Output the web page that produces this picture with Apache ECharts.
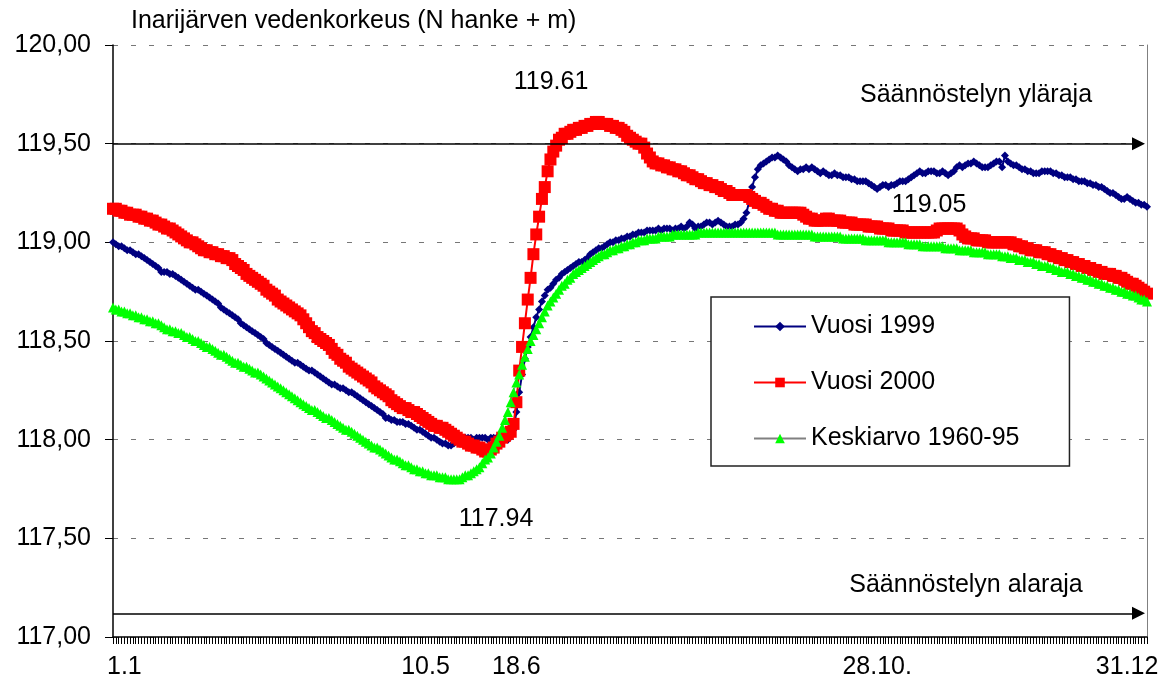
<!DOCTYPE html>
<html lang="fi">
<head>
<meta charset="UTF-8">
<title>Inarijärven vedenkorkeus</title>
<style>
  html, body { margin: 0; padding: 0; background: #fff; }
  #chart { width: 1165px; height: 681px; }
</style>
<script src="https://cdn.jsdelivr.net/npm/echarts@6/dist/echarts.min.js"></script>
</head>
<body>
<div id="chart"></div>
<script>
  // päivät 1..365 (kategoriat)
  const days = Array.from({ length: 365 }, (_, i) => String(i + 1));

  // x-akselin nimiöt ja niiden päivät
  const tickLabels = ['1.1', '10.5', '18.6', '28.10.', '31.12'];
  const tickDays = [5, 111, 143, 270, 358];

  // säännöstelyrajat
  const limitValues = [119.50, 117.12];
  const limitNames = ['Säännöstelyn yläraja', 'Säännöstelyn alaraja'];

  // merkityt arvot
  const notes = ['119.61', '117.94', '119.05'];

  const seriesNames = ['Vuosi 1999', 'Vuosi 2000', 'Keskiarvo 1960-95'];

  const vuosi1999 = [
    119.00, 118.99, 118.98, 118.98, 118.97, 118.96, 118.96, 118.95, 118.94, 118.94,
    118.93, 118.92, 118.91, 118.90, 118.89, 118.88, 118.87, 118.85, 118.85, 118.85,
    118.84, 118.84, 118.83, 118.82, 118.81, 118.80, 118.79, 118.78, 118.77, 118.76,
    118.76, 118.75, 118.74, 118.73, 118.72, 118.71, 118.70, 118.69, 118.67, 118.66,
    118.65, 118.64, 118.63, 118.62, 118.61, 118.59, 118.58, 118.57, 118.56, 118.55,
    118.54, 118.53, 118.52, 118.51, 118.49, 118.48, 118.47, 118.46, 118.45, 118.44,
    118.43, 118.42, 118.41, 118.40, 118.39, 118.39, 118.38, 118.37, 118.36, 118.35,
    118.35, 118.34, 118.33, 118.32, 118.31, 118.30, 118.29, 118.28, 118.28, 118.27,
    118.26, 118.26, 118.25, 118.24, 118.24, 118.23, 118.22, 118.21, 118.20, 118.19,
    118.18, 118.17, 118.16, 118.15, 118.14, 118.13, 118.11, 118.11, 118.10, 118.10,
    118.09, 118.09, 118.09, 118.08, 118.08, 118.07, 118.06, 118.05, 118.05, 118.04,
    118.03, 118.02, 118.01, 118.01, 118.00, 117.99, 117.98, 117.98, 117.97, 117.97,
    117.98, 118.00, 118.00, 118.01, 118.01, 118.01, 118.01, 118.00, 118.01, 118.01,
    118.01, 118.01, 118.00, 118.01, 118.01, 118.01, 118.01, 118.01, 118.01, 118.00,
    118.02, 118.05, 118.14, 118.24, 118.33, 118.41, 118.47, 118.52, 118.57, 118.62,
    118.66, 118.70, 118.73, 118.76, 118.77, 118.79, 118.81, 118.82, 118.84, 118.85,
    118.86, 118.87, 118.88, 118.89, 118.90, 118.90, 118.91, 118.92, 118.94, 118.95,
    118.96, 118.97, 118.97, 118.98, 118.99, 119.00, 119.00, 119.01, 119.01, 119.02,
    119.02, 119.03, 119.03, 119.04, 119.04, 119.05, 119.05, 119.05, 119.06, 119.06,
    119.06, 119.06, 119.07, 119.06, 119.07, 119.07, 119.07, 119.06, 119.07, 119.07,
    119.08, 119.07, 119.08, 119.10, 119.09, 119.07, 119.08, 119.08, 119.09, 119.10,
    119.10, 119.09, 119.10, 119.11, 119.10, 119.09, 119.08, 119.08, 119.08, 119.09,
    119.09, 119.10, 119.12, 119.15, 119.21, 119.28, 119.33, 119.37, 119.39, 119.40,
    119.41, 119.42, 119.43, 119.43, 119.44, 119.43, 119.42, 119.41, 119.39, 119.38,
    119.37, 119.36, 119.37, 119.37, 119.38, 119.37, 119.38, 119.37, 119.36, 119.35,
    119.36, 119.35, 119.34, 119.34, 119.35, 119.34, 119.34, 119.33, 119.33, 119.33,
    119.32, 119.32, 119.31, 119.31, 119.31, 119.31, 119.30, 119.29, 119.28, 119.27,
    119.28, 119.29, 119.29, 119.28, 119.29, 119.29, 119.30, 119.31, 119.31, 119.31,
    119.32, 119.33, 119.34, 119.35, 119.36, 119.35, 119.35, 119.36, 119.36, 119.36,
    119.35, 119.35, 119.36, 119.35, 119.34, 119.35, 119.36, 119.38, 119.39, 119.38,
    119.39, 119.40, 119.40, 119.41, 119.40, 119.39, 119.38, 119.38, 119.38, 119.39,
    119.40, 119.41, 119.41, 119.38, 119.44, 119.41, 119.40, 119.39, 119.39, 119.38,
    119.37, 119.37, 119.36, 119.36, 119.35, 119.35, 119.35, 119.36, 119.36, 119.36,
    119.36, 119.35, 119.35, 119.34, 119.34, 119.33, 119.33, 119.33, 119.32, 119.32,
    119.31, 119.31, 119.31, 119.30, 119.30, 119.29, 119.29, 119.28, 119.28, 119.27,
    119.26, 119.25, 119.25, 119.24, 119.23, 119.22, 119.22, 119.23, 119.22, 119.21,
    119.20, 119.20, 119.19, 119.19, 119.18
  ];

  const vuosi2000 = [
    119.17, 119.17, 119.16, 119.16, 119.15, 119.15, 119.14, 119.14, 119.14, 119.13,
    119.13, 119.12, 119.12, 119.11, 119.11, 119.10, 119.09, 119.09, 119.08, 119.07,
    119.07, 119.06, 119.05, 119.04, 119.03, 119.02, 119.01, 119.00, 119.00, 118.99,
    118.98, 118.97, 118.96, 118.96, 118.95, 118.95, 118.94, 118.94, 118.93, 118.93,
    118.92, 118.92, 118.91, 118.89, 118.88, 118.87, 118.86, 118.84, 118.83, 118.82,
    118.81, 118.80, 118.79, 118.78, 118.76, 118.75, 118.74, 118.73, 118.71, 118.70,
    118.69, 118.68, 118.67, 118.66, 118.65, 118.64, 118.63, 118.61, 118.59, 118.57,
    118.55, 118.54, 118.52, 118.51, 118.50, 118.49, 118.48, 118.46, 118.44, 118.43,
    118.41, 118.40, 118.39, 118.37, 118.36, 118.35, 118.34, 118.33, 118.32, 118.31,
    118.30, 118.29, 118.27, 118.26, 118.25, 118.24, 118.23, 118.22, 118.20, 118.19,
    118.18, 118.17, 118.16, 118.16, 118.15, 118.14, 118.14, 118.13, 118.12, 118.11,
    118.10, 118.09, 118.08, 118.07, 118.07, 118.06, 118.06, 118.05, 118.04, 118.03,
    118.02, 118.01, 118.00, 117.99, 117.99, 117.98, 117.97, 117.97, 117.96, 117.96,
    117.95, 117.94, 117.94, 117.95, 117.96, 117.98, 117.99, 118.01, 118.02, 118.03,
    118.04, 118.08, 118.19, 118.35, 118.47, 118.59, 118.71, 118.82, 118.94, 119.04,
    119.13, 119.22, 119.28, 119.36, 119.42, 119.46, 119.49, 119.52, 119.53, 119.55,
    119.55, 119.56, 119.57, 119.57, 119.58, 119.58, 119.59, 119.59, 119.60, 119.60,
    119.61, 119.61, 119.60, 119.60, 119.60, 119.59, 119.59, 119.58, 119.58, 119.57,
    119.56, 119.54, 119.53, 119.52, 119.51, 119.50, 119.50, 119.48, 119.45, 119.43,
    119.41, 119.40, 119.40, 119.39, 119.39, 119.38, 119.38, 119.37, 119.37, 119.36,
    119.36, 119.35, 119.34, 119.34, 119.33, 119.32, 119.32, 119.31, 119.30, 119.30,
    119.29, 119.29, 119.28, 119.28, 119.27, 119.26, 119.26, 119.25, 119.24, 119.24,
    119.24, 119.24, 119.24, 119.24, 119.23, 119.22, 119.21, 119.20, 119.20, 119.19,
    119.18, 119.17, 119.17, 119.16, 119.16, 119.15, 119.15, 119.15, 119.15, 119.15,
    119.15, 119.15, 119.15, 119.14, 119.13, 119.12, 119.12, 119.11, 119.11, 119.11,
    119.11, 119.12, 119.12, 119.11, 119.11, 119.11, 119.11, 119.10, 119.10, 119.10,
    119.10, 119.09, 119.09, 119.09, 119.09, 119.09, 119.08, 119.08, 119.08, 119.08,
    119.07, 119.07, 119.07, 119.07, 119.06, 119.06, 119.06, 119.06, 119.06, 119.05,
    119.05, 119.05, 119.05, 119.05, 119.05, 119.05, 119.05, 119.05, 119.05, 119.05,
    119.06, 119.07, 119.07, 119.07, 119.07, 119.07, 119.07, 119.07, 119.06, 119.04,
    119.03, 119.02, 119.02, 119.02, 119.01, 119.01, 119.01, 119.01, 119.00, 119.00,
    119.00, 119.00, 119.00, 119.00, 119.00, 119.00, 119.00, 118.99, 118.99, 118.98,
    118.98, 118.97, 118.97, 118.96, 118.96, 118.96, 118.95, 118.95, 118.95, 118.94,
    118.94, 118.93, 118.93, 118.92, 118.92, 118.91, 118.91, 118.90, 118.90, 118.89,
    118.89, 118.88, 118.88, 118.87, 118.87, 118.86, 118.86, 118.85, 118.85, 118.84,
    118.84, 118.84, 118.83, 118.83, 118.82, 118.82, 118.81, 118.80, 118.79, 118.79,
    118.78, 118.77, 118.76, 118.75, 118.74
  ];

  const keskiarvo = [
    118.67, 118.66, 118.66, 118.65, 118.65, 118.64, 118.64, 118.63, 118.63, 118.62,
    118.62, 118.61, 118.61, 118.60, 118.60, 118.59, 118.59, 118.58, 118.57, 118.56,
    118.56, 118.55, 118.55, 118.54, 118.54, 118.53, 118.52, 118.52, 118.51, 118.50,
    118.50, 118.49, 118.48, 118.47, 118.47, 118.46, 118.45, 118.44, 118.43, 118.43,
    118.42, 118.41, 118.40, 118.39, 118.39, 118.38, 118.37, 118.37, 118.36, 118.35,
    118.34, 118.34, 118.33, 118.32, 118.31, 118.30, 118.29, 118.28, 118.27, 118.26,
    118.25, 118.24, 118.23, 118.22, 118.21, 118.20, 118.19, 118.18, 118.17, 118.16,
    118.15, 118.15, 118.14, 118.13, 118.12, 118.11, 118.11, 118.10, 118.09, 118.08,
    118.07, 118.06, 118.05, 118.05, 118.04, 118.03, 118.02, 118.01, 118.00, 117.99,
    117.98, 117.97, 117.96, 117.96, 117.95, 117.94, 117.93, 117.92, 117.91, 117.90,
    117.90, 117.89, 117.88, 117.87, 117.87, 117.86, 117.85, 117.85, 117.84, 117.84,
    117.83, 117.83, 117.82, 117.82, 117.82, 117.81, 117.81, 117.81, 117.80, 117.80,
    117.80, 117.80, 117.80, 117.81, 117.82, 117.82, 117.83, 117.84, 117.85, 117.86,
    117.88, 117.90, 117.91, 117.93, 117.96, 117.99, 118.02, 118.06, 118.10, 118.14,
    118.19, 118.24, 118.29, 118.33, 118.38, 118.42, 118.46, 118.50, 118.53, 118.56,
    118.59, 118.62, 118.65, 118.68, 118.70, 118.72, 118.74, 118.76, 118.78, 118.79,
    118.81, 118.82, 118.84, 118.85, 118.86, 118.87, 118.88, 118.89, 118.90, 118.91,
    118.92, 118.93, 118.94, 118.94, 118.95, 118.96, 118.96, 118.97, 118.97, 118.98,
    118.98, 118.99, 118.99, 119.00, 119.00, 119.01, 119.01, 119.01, 119.02, 119.02,
    119.02, 119.02, 119.03, 119.03, 119.03, 119.03, 119.03, 119.04, 119.04, 119.04,
    119.04, 119.04, 119.04, 119.04, 119.04, 119.04, 119.05, 119.05, 119.05, 119.05,
    119.05, 119.05, 119.05, 119.05, 119.05, 119.05, 119.05, 119.05, 119.05, 119.05,
    119.05, 119.05, 119.05, 119.05, 119.05, 119.05, 119.05, 119.05, 119.05, 119.05,
    119.05, 119.05, 119.05, 119.05, 119.04, 119.04, 119.04, 119.04, 119.04, 119.04,
    119.04, 119.04, 119.04, 119.04, 119.04, 119.04, 119.04, 119.03, 119.03, 119.03,
    119.03, 119.03, 119.03, 119.03, 119.03, 119.03, 119.03, 119.02, 119.02, 119.02,
    119.02, 119.02, 119.02, 119.02, 119.02, 119.01, 119.01, 119.01, 119.01, 119.01,
    119.01, 119.01, 119.01, 119.00, 119.00, 119.00, 119.00, 119.00, 119.00, 119.00,
    118.99, 118.99, 118.99, 118.99, 118.99, 118.98, 118.98, 118.98, 118.98, 118.98,
    118.98, 118.98, 118.98, 118.97, 118.97, 118.97, 118.97, 118.97, 118.96, 118.96,
    118.96, 118.96, 118.96, 118.95, 118.95, 118.95, 118.95, 118.95, 118.94, 118.94,
    118.94, 118.94, 118.94, 118.93, 118.93, 118.93, 118.92, 118.92, 118.92, 118.91,
    118.91, 118.91, 118.90, 118.90, 118.90, 118.89, 118.89, 118.88, 118.88, 118.88,
    118.87, 118.87, 118.86, 118.86, 118.85, 118.85, 118.85, 118.84, 118.84, 118.83,
    118.83, 118.82, 118.82, 118.81, 118.81, 118.80, 118.80, 118.79, 118.79, 118.78,
    118.78, 118.77, 118.77, 118.76, 118.76, 118.75, 118.75, 118.74, 118.74, 118.73,
    118.73, 118.72, 118.71, 118.71, 118.70
  ];

  const FONT = '"Liberation Sans", Arial, Helvetica, sans-serif';
  const labelIndex = tickDays.map(d => d - 1);

  function textEl(text, x, y) {
    return {
      type: 'text', x: x, y: y, z: 100,
      style: {
        text: text, fill: '#000', font: '25px ' + FONT,
        textAlign: 'center', textVerticalAlign: 'middle'
      }
    };
  }

  const option = {
    animation: false,
    backgroundColor: '#fff',
    textStyle: { fontFamily: FONT },
    title: {
      text: 'Inarijärven vedenkorkeus (N hanke + m)',
      left: 131, top: 9, padding: 0,
      textStyle: { fontSize: 25, fontWeight: 'normal', color: '#000', fontFamily: FONT }
    },
    legend: {
      data: seriesNames,
      orient: 'vertical',
      left: 711, top: 297,
      padding: [17, 50, 15, 42],
      itemGap: 31,
      itemWidth: 52,
      itemHeight: 12,
      backgroundColor: '#fff',
      borderColor: '#222',
      borderWidth: 1.5,
      borderRadius: 0,
      textStyle: { fontSize: 25, color: '#000', fontFamily: FONT, padding: [0, 0, 0, 0] }
    },
    grid: { left: 113, right: 18, top: 45, bottom: 44, containLabel: false },
    xAxis: {
      type: 'category',
      data: days,
      boundaryGap: false,
      axisLine: { lineStyle: { color: '#000', width: 1.5 } },
      axisTick: { show: true, interval: 0, length: 7, lineStyle: { color: '#000', width: 1 } },
      axisLabel: {
        interval: (idx) => labelIndex.indexOf(idx) >= 0,
        formatter: (val, idx) => {
          const k = labelIndex.indexOf(idx);
          return k >= 0 ? tickLabels[k] : '';
        },
        fontSize: 25, color: '#000', margin: 18, fontFamily: FONT
      },
      splitLine: { show: false }
    },
    yAxis: [{
      type: 'value',
      min: 117, max: 120, interval: 0.5,
      axisLine: { show: true, lineStyle: { color: '#000', width: 1.5 } },
      axisTick: { show: true, length: 8, lineStyle: { color: '#000' } },
      axisLabel: {
        formatter: (v) => v.toFixed(2).replace('.', ','),
        fontSize: 25, color: '#000', margin: 22, fontFamily: FONT
      },
      splitLine: { show: true, lineStyle: { color: '#777', type: [5, 13], width: 1 } }
    }, {
      type: 'value',
      position: 'right',
      min: 117, max: 120, interval: 0.5,
      axisLine: { show: true, lineStyle: { color: '#808080', width: 1 } },
      axisTick: { show: false },
      axisLabel: { show: false },
      splitLine: { show: false }
    }],
    series: [
      {
        name: seriesNames[0],
        type: 'line',
        data: vuosi1999,
        z: 3,
        symbol: 'diamond',
        symbolSize: 8,
        showAllSymbol: true,
        itemStyle: { color: '#000080' },
        lineStyle: { color: '#000080', width: 2 },
        markLine: {
          silent: true,
          symbol: ['none', 'triangle'],
          symbolSize: 13,
          label: { show: false },
          lineStyle: { color: '#000', width: 1.5, type: 'solid' },
          data: limitValues.map(v => [
            { coord: [0, v] },
            { coord: [361, v] }
          ])
        }
      },
      {
        name: seriesNames[1],
        type: 'line',
        data: vuosi2000,
        z: 4,
        symbol: 'rect',
        symbolSize: 12,
        showAllSymbol: true,
        itemStyle: { color: '#ff0000' },
        lineStyle: { color: '#ff0000', width: 2 }
      },
      {
        name: seriesNames[2],
        type: 'line',
        data: keskiarvo,
        z: 5,
        symbol: 'triangle',
        symbolSize: 10,
        showAllSymbol: true,
        itemStyle: { color: '#00ff00' },
        lineStyle: { color: '#808080', width: 1 }
      }
    ],
    graphic: [
      textEl(notes[0], 551, 82),
      textEl(notes[1], 496, 519),
      textEl(notes[2], 929, 205),
      textEl(limitNames[0], 976, 95),
      textEl(limitNames[1], 966, 585)
    ]
  };

  const chart = echarts.init(document.getElementById('chart'), null, { renderer: 'canvas' });
  chart.setOption(option);
</script>
</body>
</html>
